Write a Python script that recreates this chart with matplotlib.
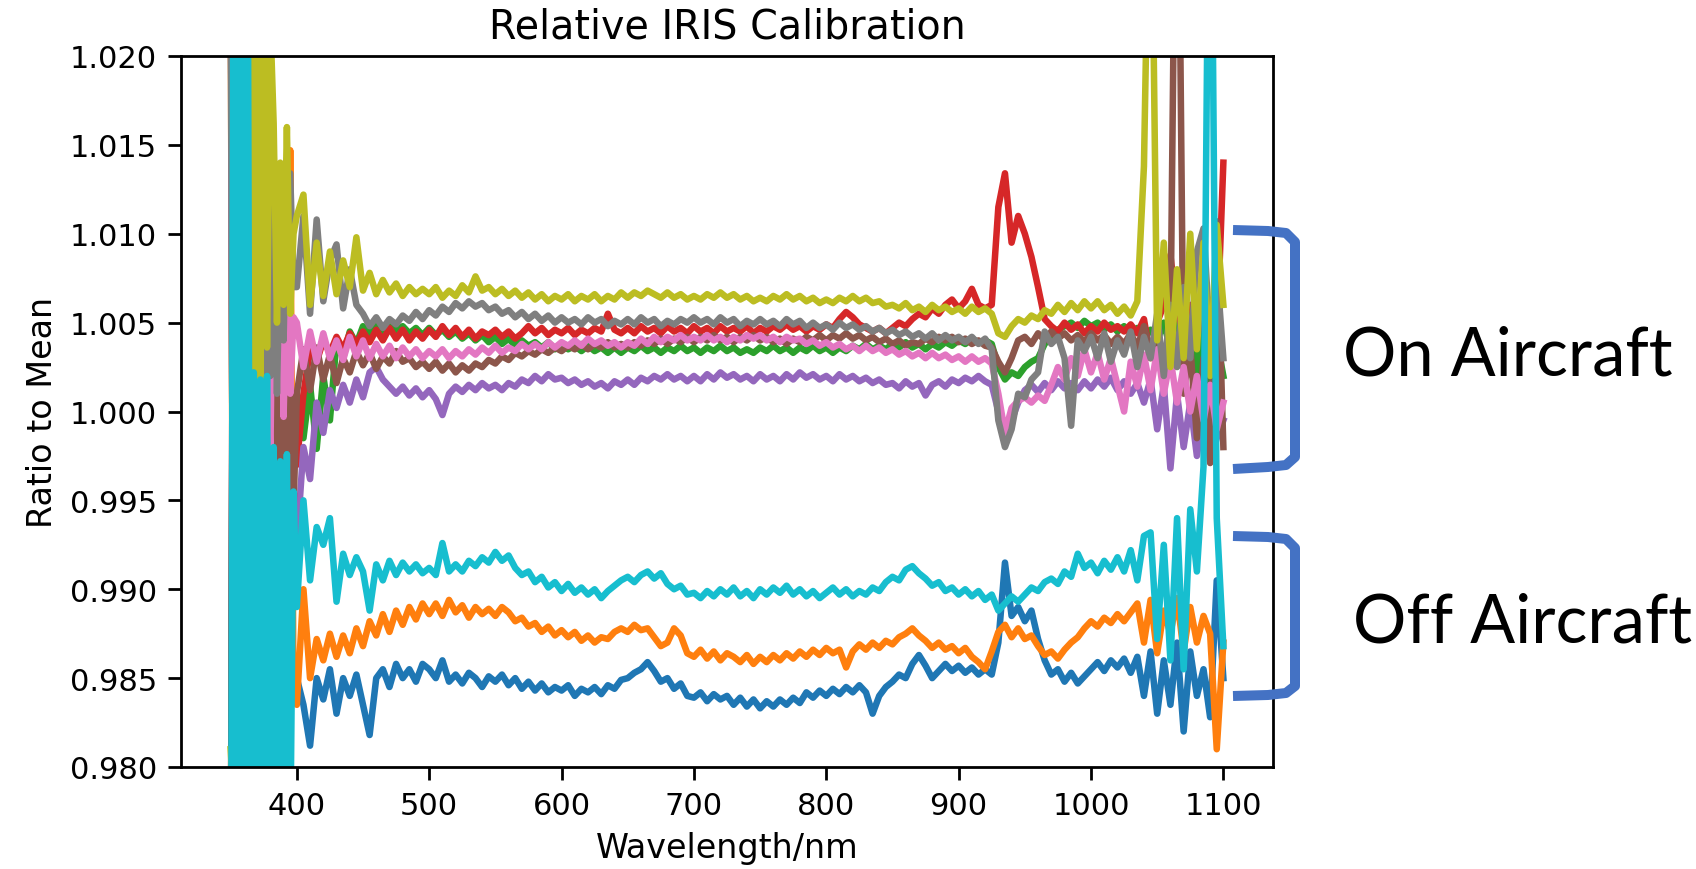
import numpy as np
import matplotlib.pyplot as plt
from matplotlib.lines import Line2D
from matplotlib.ticker import FormatStrFormatter

# wavelength grid (nm): 2.5 nm below 400 nm where the spectra blow up, 5 nm above
wavelength = np.concatenate([np.arange(350, 400, 2.5), np.arange(400, 1101, 5)])

# ratio to mean, stored as (ratio - 1) * 1e4
# first row = 350-397.5, then one row per 50 nm (400-445, ... 1050-1095), last = 1100
blue = [-300, 250, -250, 300, -260, 120, -250, 100, -220, 60, -220, -80, -200, -120, -210, -100, -190, -140, -170, -137,
        -150, -165, -188, -150, -162, -145, -170, -150, -160, -148,
        -165, -182, -150, -145, -155, -142, -150, -145, -152, -142,
        -145, -150, -140, -152, -148, -153, -147, -150, -155, -149,
        -152, -148, -154, -150, -156, -152, -157, -153, -158, -155,
        -157, -154, -160, -156, -158, -155, -159, -154, -156, -151,
        -150, -147, -145, -141, -146, -152, -150, -156, -153, -160,
        -161, -158, -163, -159, -162, -160, -165, -161, -166, -162,
        -167, -163, -166, -162, -165, -161, -164, -158, -161, -157,
        -160, -156, -159, -155, -158, -154, -158, -170, -160, -155,
        -152, -148, -150, -142, -137, -143, -150, -146, -142, -146,
        -143, -147, -144, -148, -145, -148, -130, -85, -115, -110,
        -118, -112, -128, -140, -148, -145, -152, -147, -153, -149,
        -145, -141, -146, -140, -144, -139, -147, -138, -160, -135,
        -170, -140, -165, -130, -180, -135, -160, -145, -172, -95,
        -150]
orange = [250, -300, 200, -260, 150, -280, 200, -250, 120, -230, -220, -250, -240, -230, -250, -230, -210, -240, 147, -160,
          -165, -100, -150, -128, -140, -125, -138, -126, -136, -122,
          -132, -118, -126, -114, -124, -112, -120, -110, -117, -108,
          -114, -108, -115, -106, -113, -109, -116, -110, -114, -111,
          -115, -110, -113, -118, -116, -121, -119, -124, -121, -126,
          -123, -127, -124, -129, -126, -130, -127, -128, -124, -122,
          -124, -120, -123, -122, -127, -132, -130, -122, -126, -136,
          -138, -134, -139, -135, -140, -136, -138, -141, -137, -142,
          -138, -141, -137, -140, -136, -139, -135, -138, -134, -137,
          -133, -136, -134, -144, -135, -131, -134, -130, -133, -129,
          -131, -127, -125, -122, -126, -129, -133, -130, -134, -132,
          -136, -133, -138, -141, -145, -135, -124, -120, -127, -122,
          -128, -126, -132, -137, -135, -139, -134, -130, -127, -122,
          -118, -121, -116, -119, -114, -118, -113, -108, -130, -106,
          -136, -112, -125, -105, -135, -110, -130, -115, -125, -190,
          -130]
green = [300, -300, 250, -250, 200, -200, 150, -150, 120, -120, 80, -100, 60, -50, 40, -30, 20, -10, 10, -15,
         10, -15, 15, -21, 20, -5, 40, 30, 45, 38,
         48, 43, 50, 44, 49, 45, 48, 44, 47, 43,
         47, 43, 46, 42, 45, 41, 44, 40, 43, 39,
         42, 38, 41, 37, 40, 37, 39, 36, 39, 35,
         38, 35, 37, 34, 37, 34, 36, 33, 36, 33,
         36, 34, 37, 34, 36, 33, 36, 34, 37, 34,
         36, 33, 36, 34, 37, 34, 36, 33, 35, 33,
         36, 34, 37, 34, 36, 33, 36, 34, 37, 34,
         36, 33, 36, 34, 37, 35, 38, 35, 37, 35,
         38, 36, 39, 36, 38, 35, 38, 36, 39, 37,
         40, 38, 41, 39, 40, 38, 25, 18, 22, 20,
         25, 28, 30, 38, 42, 46, 48, 50, 47, 51,
         48, 50, 46, 49, 45, 48, 44, 47, 43, 46,
         40, 50, 35, 55, 30, 45, 20, 50, 10, 40,
         20]
red = [-300, 300, -300, 250, -250, 200, -200, 150, -150, 100, -120, 80, -100, 50, -80, 20, -60, -3, -55, -20,
       -30, 10, 35, 28, 40, 33, 42, 35, 44, 38,
       45, 39, 46, 40, 47, 41, 46, 40, 45, 41,
       46, 42, 48, 43, 47, 42, 46, 41, 45, 43,
       46, 42, 45, 41, 44, 48, 44, 47, 43, 46,
       44, 47, 43, 46, 44, 47, 45, 55, 46, 44,
       47, 44, 48, 45, 47, 44, 48, 45, 47, 44,
       48, 45, 47, 44, 48, 45, 47, 45, 48, 44,
       47, 45, 48, 46, 49, 46, 48, 45, 48, 46,
       49, 47, 52, 56, 53, 49, 47, 45, 47, 44,
       47, 50, 48, 52, 55, 53, 58, 55, 60, 63,
       58, 62, 69, 60, 58, 60, 115, 134, 95, 110,
       100, 87, 70, 52, 48, 45, 50, 46, 49, 44,
       48, 45, 50, 46, 48, 45, 49, 44, 52, 30,
       50, 60, 88, 55, 45, 60, 40, 65, 35, 40,
       140]
purple = [300, -300, 250, -280, 300, -200, 250, -150, 300, 260, 210, -100, 150, -150, 100, -120, 40, -80, -29, -70,
          -75, -20, -38, 5, -12, 12, 2, 15, 5, 18,
          8, 22, 25, 18, 14, 10, 14, 9, 13, 8,
          12, 7, -2, 10, 14, 11, 15, 12, 16, 13,
          15, 12, 16, 14, 18, 16, 20, 17, 21, 18,
          19, 16, 18, 15, 17, 14, 16, 13, 17, 15,
          18, 15, 19, 17, 20, 18, 21, 18, 20, 17,
          20, 17, 21, 18, 22, 19, 21, 18, 20, 17,
          21, 18, 20, 17, 21, 18, 22, 19, 21, 18,
          20, 17, 21, 18, 20, 17, 19, 16, 18, 15,
          16, 13, 17, 14, 16, 9, 15, 17, 14, 18,
          16, 19, 17, 20, 17, 15, 0, -10, -5, 5,
          12, 15, 11, 16, 12, 17, 13, 16, 12, 17,
          13, 18, 14, 19, 12, 17, 10, 16, 5, 18,
          -10, 15, -32, 10, -20, 5, -25, 0, -28, -15,
          -5]
brown = [-300, 300, -300, 250, -250, 200, -200, 150, -150, 100, -120, 60, 36, -20, 30, -39, 38, -30, 20, -55,
         10, 35, 12, 36, 18, 32, 16, 30, 22, 34,
         26, 33, 24, 31, 27, 34, 28, 30, 25, 28,
         24, 28, 23, 27, 22, 26, 23, 27, 25, 29,
         27, 31, 29, 33, 31, 34, 32, 35, 33, 36,
         34, 37, 35, 38, 35, 38, 36, 39, 36, 38,
         36, 39, 37, 40, 38, 41, 38, 41, 39, 42,
         39, 42, 40, 43, 40, 42, 39, 42, 40, 43,
         40, 42, 39, 41, 38, 41, 39, 42, 40, 43,
         40, 43, 41, 44, 41, 43, 40, 42, 39, 41,
         38, 40, 37, 39, 38, 41, 39, 42, 40, 42,
         39, 41, 38, 40, 37, 36, 28, 22, 30, 40,
         42, 38, 44, 40, 45, 41, 44, 40, 43, 39,
         44, 40, 43, 38, 42, 38, 44, 36, 48, 34,
         40, 25, 45, 400, 10, 37, -15, 30, -29, 107,
         -20]
pink = [300, -300, 250, -250, 200, -200, 150, -100, 200, -50, 174, 60, -29, 147, 20, 100, -3, 80, 10, 53,
        50, 25, 45, 28, 44, 30, 40, 29, 42, 31,
        40, 30, 38, 31, 37, 30, 36, 31, 35, 30,
        34, 31, 35, 30, 34, 31, 35, 32, 36, 33,
        37, 33, 36, 34, 38, 35, 38, 35, 39, 36,
        39, 37, 40, 37, 41, 38, 40, 37, 39, 36,
        39, 37, 41, 38, 42, 39, 42, 40, 43, 40,
        42, 40, 43, 40, 42, 39, 42, 40, 43, 41,
        43, 40, 42, 39, 42, 40, 41, 38, 40, 37,
        39, 36, 38, 35, 37, 34, 37, 34, 36, 33,
        35, 32, 34, 31, 33, 30, 33, 30, 32, 29,
        31, 28, 31, 28, 30, 27, 10, -12, 2, 6,
        8, 5, 9, 6, 15, 25, 18, 30, 20, 35,
        22, 33, 18, 30, 15, 0, 28, 14, 32, 12,
        35, 10, 30, 5, 25, 0, 20, -5, 15, -10,
        5]
gray = [250, -250, 200, -150, 180, -100, 160, -50, 139, 60, 7, 120, 20, 139, 10, 100, 40, 130, 134, 70,
        70, 110, 55, 108, 62, 85, 94, 58, 80, 60,
        55, 48, 53, 47, 52, 49, 54, 51, 56, 52,
        57, 54, 59, 56, 61, 58, 62, 59, 61, 57,
        59, 55, 57, 53, 56, 52, 55, 51, 54, 50,
        53, 50, 52, 49, 53, 50, 52, 48, 51, 49,
        52, 49, 53, 50, 52, 48, 51, 49, 52, 50,
        53, 50, 52, 49, 53, 50, 52, 48, 51, 49,
        52, 49, 51, 48, 52, 49, 51, 47, 50, 47,
        49, 46, 50, 47, 49, 46, 48, 45, 47, 44,
        46, 43, 45, 42, 44, 41, 44, 40, 43, 40,
        42, 39, 42, 38, 41, 35, -5, -20, -10, 10,
        8, 18, 22, 45, 38, 42, 30, -8, 40, 34,
        42, 30, 44, 28, 40, 32, 45, 25, 42, 30,
        55, 20, 60, 25, 70, 30, 90, 103, 40, 80,
        30]
olive = [-190, -220, -195, -250, 300, 10, 300, 8, 300, 15, 250, 36, 220, 162, 50, 140, 60, 160, 55, 100,
         110, 122, 60, 95, 65, 90, 66, 85, 70, 98,
         68, 78, 66, 74, 67, 72, 65, 70, 66, 69,
         66, 70, 64, 68, 65, 71, 67, 76, 68, 70,
         66, 69, 65, 68, 64, 67, 63, 66, 62, 65,
         63, 66, 62, 65, 63, 66, 62, 65, 63, 67,
         64, 67, 65, 68, 66, 64, 67, 64, 66, 63,
         65, 63, 66, 64, 67, 64, 66, 63, 65, 62,
         64, 62, 65, 63, 66, 63, 65, 62, 64, 61,
         63, 61, 64, 62, 65, 62, 64, 61, 62, 59,
         60, 58, 61, 57, 59, 56, 60, 57, 59, 56,
         58, 55, 59, 56, 58, 55, 44, 42, 48, 52,
         50, 54, 52, 57, 55, 60, 56, 61, 57, 62,
         58, 62, 57, 60, 55, 59, 54, 62, 138, 350,
         40, 95, 25, 80, 30, 100, 35, 95, 20, 105,
         60]
cyan = [-400, 400, -400, 400, -400, 400, -300, 22, -300, 18, -300, 20, -300, -20, -280, -28, -260, -24, -250, -45,
        -110, -50, -95, -65, -75, -60, -107, -80, -92, -82,
        -90, -112, -86, -95, -84, -92, -85, -90, -86, -91,
        -88, -92, -74, -90, -86, -90, -84, -87, -82, -85,
        -79, -84, -81, -88, -92, -90, -96, -93, -99, -96,
        -101, -97, -102, -99, -103, -100, -105, -101, -98, -95,
        -93, -96, -92, -90, -94, -91, -97, -100, -98, -103,
        -102, -105, -101, -104, -100, -103, -99, -104, -101, -105,
        -100, -103, -99, -102, -98, -103, -100, -104, -101, -105,
        -102, -99, -103, -100, -104, -101, -103, -99, -101, -96,
        -93, -95, -89, -87, -91, -94, -98, -96, -101, -99,
        -103, -100, -104, -101, -106, -103, -112, -108, -104, -107,
        -103, -99, -101, -96, -94, -97, -90, -93, -80, -88,
        -85, -91, -84, -89, -82, -90, -78, -95, -70, -68,
        -128, -75, -140, -60, -145, -55, -90, -31, 400, -60,
        -132]

series = [blue, orange, green, red, purple, brown, pink, gray, olive, cyan]

W, H = 1696, 870

fig = plt.figure(figsize=(W / 100, H / 100), dpi=100)
ax = fig.add_axes([181 / W, 1 - 768 / H, (1273 - 181) / W, (768 - 57) / H])

for s in series:
    ax.plot(wavelength, 1 + np.array(s) / 1e4, lw=4.7)

ax.set_ylim(0.98, 1.02)
ax.set_yticks(np.arange(0.980, 1.0201, 0.005))
ax.yaxis.set_major_formatter(FormatStrFormatter('%.3f'))
ax.set_xticks(range(400, 1101, 100))
ax.tick_params(length=9.5, width=2, pad=7.7, labelsize=22)
for sp in ax.spines.values():
    sp.set_linewidth(2)

ax.set_title('Relative IRIS Calibration', fontsize=28.5, pad=13)
ax.set_xlabel('Wavelength/nm', fontsize=24, labelpad=8)
ax.set_ylabel('Ratio to Mean', fontsize=24, labelpad=8)

# brackets and group labels pasted on the right
bracket_color = '#4472C4'
top_br = [(1233, 231), (1268, 232), (1286, 234), (1295, 243),
          (1295, 458), (1286, 466), (1268, 468), (1233, 470)]
bot_br = [(1233, 537), (1268, 538), (1286, 540), (1295, 549),
          (1295, 687), (1286, 694), (1268, 696), (1233, 697)]
for br in (top_br, bot_br):
    xs = [p[0] / W for p in br]
    ys = [1 - p[1] / H for p in br]
    fig.add_artist(Line2D(xs, ys, color=bracket_color, lw=7.2,
                          solid_joinstyle='round', solid_capstyle='butt',
                          transform=fig.transFigure))

fig.text(1343 / W, 1 - 376 / H, 'On Aircraft', fontsize=48, family='Lato',
         ha='left', va='baseline')
fig.text(1353 / W, 1 - 643 / H, 'Off Aircraft', fontsize=48, family='Lato',
         ha='left', va='baseline')

fig.savefig('out.png', dpi=100)
